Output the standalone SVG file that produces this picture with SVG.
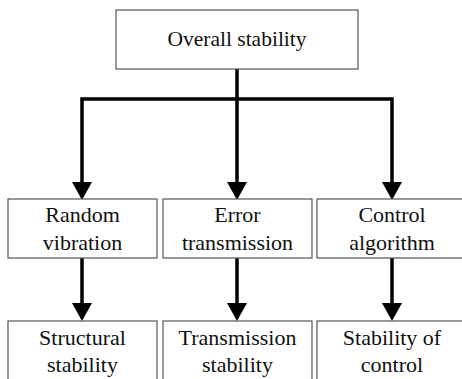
<svg xmlns="http://www.w3.org/2000/svg" width="462" height="379" viewBox="0 0 462 379">
<defs>
<polygon id="ah" points="-10,-18 10,-18 0,0" fill="#000"/>
</defs>
<rect width="462" height="379" fill="#fff"/>
<g id="connectors" stroke="#000" stroke-width="3.5" fill="none">
<polyline points="237,69 237,99"/>
<polyline points="82,184 82,99 392,99 392,184"/>
<line x1="237" y1="99" x2="237" y2="184"/>
<line x1="82" y1="258" x2="82" y2="305"/>
<line x1="237" y1="258" x2="237" y2="305"/>
<line x1="392" y1="258" x2="392" y2="305"/>
<use href="#ah" x="82" y="200" stroke="none"/>
<use href="#ah" x="237" y="200" stroke="none"/>
<use href="#ah" x="392" y="200" stroke="none"/>
<use href="#ah" x="82" y="321" stroke="none"/>
<use href="#ah" x="237" y="321" stroke="none"/>
<use href="#ah" x="392" y="321" stroke="none"/>
</g>
<g font-family="Liberation Serif" font-size="22" fill="#111" text-anchor="middle">
<g id="overall">
<rect x="116" y="10" width="242" height="59" fill="#fff" stroke="#555" stroke-width="1.2"/>
<text x="237" y="46" font-size="21.5">Overall stability</text>
</g>
<g id="random">
<rect x="8" y="199" width="149" height="59" fill="#fff" stroke="#555" stroke-width="1.2"/>
<text x="82.5" y="222">Random</text>
<text x="82.5" y="250">vibration</text>
</g>
<g id="error">
<rect x="163" y="199" width="149" height="59" fill="#fff" stroke="#555" stroke-width="1.2"/>
<text x="237.5" y="222">Error</text>
<text x="237.5" y="250">transmission</text>
</g>
<g id="controlalg">
<rect x="317" y="199" width="150" height="59" fill="#fff" stroke="#555" stroke-width="1.2"/>
<text x="392" y="222">Control</text>
<text x="392" y="250">algorithm</text>
</g>
<g id="structural">
<rect x="8" y="321" width="149" height="65" fill="#fff" stroke="#555" stroke-width="1.2"/>
<text x="82.5" y="345">Structural</text>
<text x="82.5" y="372">stability</text>
</g>
<g id="transmission">
<rect x="163" y="321" width="149" height="65" fill="#fff" stroke="#555" stroke-width="1.2"/>
<text x="237.5" y="345">Transmission</text>
<text x="237.5" y="372">stability</text>
</g>
<g id="stabcontrol">
<rect x="317" y="321" width="150" height="65" fill="#fff" stroke="#555" stroke-width="1.2"/>
<text x="392" y="345">Stability of</text>
<text x="392" y="372">control</text>
</g>
</g>
</svg>
